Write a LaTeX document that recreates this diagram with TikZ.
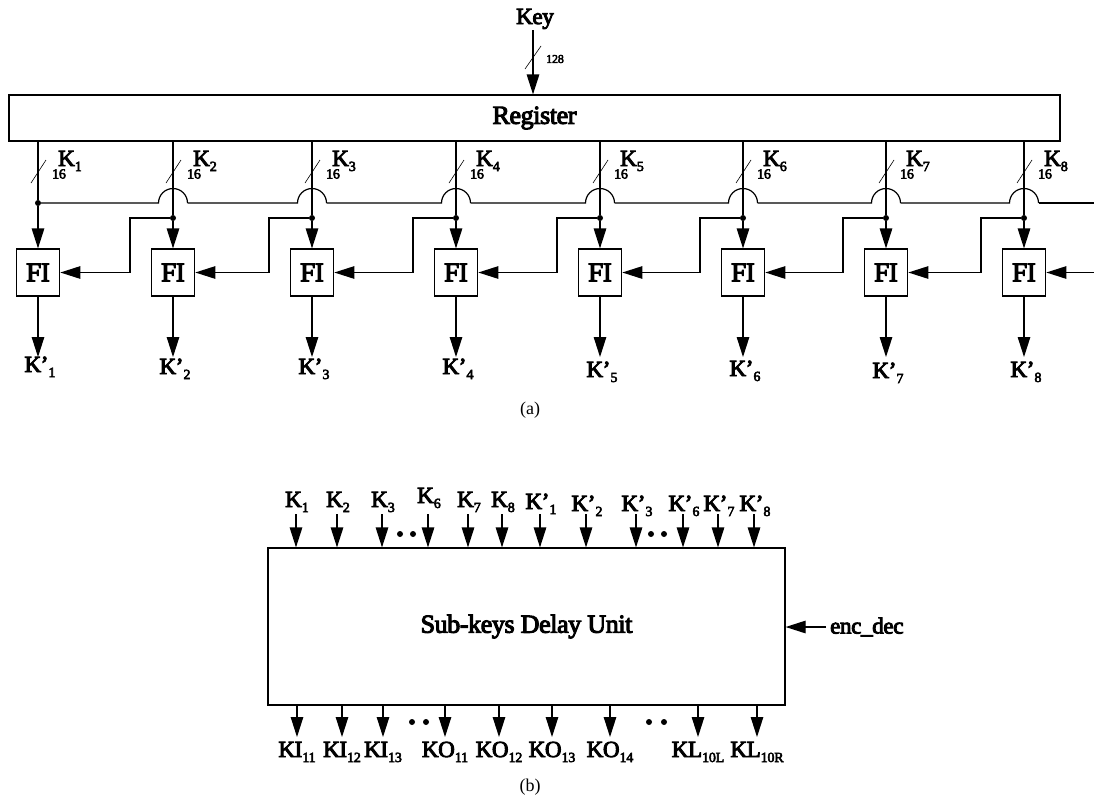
\documentclass[tikz,border=0pt]{standalone}
\usepackage{fontspec}
\setmainfont[FakeBold=4,LetterSpace=-1.5]{Liberation Serif}
\newfontfamily\plainfont{Liberation Serif}
\usetikzlibrary{arrows.meta}
\newcommand{\lab}[2]{#1\raisebox{-5pt}{\fontsize{14}{14}\selectfont #2}}
\tikzset{
    sig/.style={draw,line width=1.2pt,-{Triangle[length=20pt,width=12.5pt]}},
    wire/.style={draw,line width=1.2pt},
    slash/.style={draw,line width=0.6pt},
    block/.style={draw,line width=1.2pt,inner sep=0pt,fill=white},
    fibox/.style={block,minimum width=43.5pt,minimum height=47pt,font=\fontsize{27}{27}\selectfont},
    lbl/.style={inner sep=0pt,font=\fontsize{23}{23}\selectfont},
    bits/.style={inner sep=0pt,font=\fontsize{14}{14}\selectfont},
    subcap/.style={inner sep=0pt,font=\plainfont\fontsize{18}{18}\selectfont},
    dot/.style={circle,fill=black,inner sep=0pt,minimum size=6pt},
    bump/.style={start angle=180,end angle=360,radius=14.5}
}
\begin{document}
\begin{tikzpicture}[x=1pt,y=-1pt]
    \useasboundingbox(0,0)rectangle(1094,801);
    % part a
    \node[lbl,anchor=base](key)at(535,24){Key};
    \node[block,minimum width=1051pt,minimum height=46pt,font=\fontsize{26}{26}\selectfont](reg)at(534.5,118){\raisebox{-2pt}{Register}};
    \coordinate(keyin)at(533,30);
    \draw[sig](keyin)--(keyin|-reg.north);
    \draw[slash](525,69)--(541,46);
    \node[bits,anchor=west,font=\fontsize{12}{12}\selectfont](w0)at(546,59){128};
    \foreach \i/\x/\yo in {1/38/372,2/173/374,3/312/374,4/456/374,5/600/377,6/743/376,7/886/378,8/1024/377}{
        \node[fibox](fi\i)at(\x,272.5){FI};
        \node[lbl,anchor=base](kout\i)at(\x+2,\yo){\lab{K'}{\i}};
        \coordinate(out\i)at(\x,357);
        \draw[sig](fi\i.south)--(out\i);
        \draw[slash](\x-7,183)--(\x+8,160);
        \node[bits](w\i)at(\x+21,174){16};
        \node[lbl,anchor=base west](k\i)at(\x+20,166){\lab{K}{\i}};
    }
    % first line stops at the dot, the others carry on down
    \node[dot](d1)at(38,203){};
    \draw[wire](reg.south-|fi1)--(d1);
    \draw[sig](d1)--(fi1.north);
    \foreach \i/\j/\x in {2/1/173,3/2/312,4/3/456,5/4/600,6/5/743,7/6/886,8/7/1024}{
        \node[dot](d\i)at(\x,218){};
        \draw[wire](reg.south-|fi\i)--(d\i);
        \draw[sig](d\i)--(fi\i.north);
        \coordinate(hop\i)at(\x-14.5,203);
        \draw[sig](d\i)-|(\x-43,272.5)--(fi\j.east);
    }
    \draw[wire](d1)--(hop2)arc[bump];
    \draw[wire](187.5,203)--(hop3)arc[bump];
    \draw[wire](326.5,203)--(hop4)arc[bump];
    \draw[wire](470.5,203)--(hop5)arc[bump];
    \draw[wire](614.5,203)--(hop6)arc[bump];
    \draw[wire](757.5,203)--(hop7)arc[bump];
    \draw[wire](900.5,203)--(hop8)arc[bump];
    \draw[wire](1038.5,203)--(1094,203);
    \coordinate(edge)at(1094,272.5);
    \draw[sig](edge)--(fi8.east);
    \node[subcap](capa)at(530,410){(a)};
    % part b
    \node[block,minimum width=517pt,minimum height=157pt,font=\fontsize{26}{26}\selectfont](unit)at(526.5,626.5){\raisebox{-3pt}{Sub-keys Delay Unit}};
    \foreach \n/\x/\t/\yo in {a/296/\lab{K}{1}/507,b/337/\lab{K}{2}/507,c/382/\lab{K}{3}/507,d/428/\lab{K}{6}/503,e/468/\lab{K}{7}/507,f/502/\lab{K}{8}/507,g/540/\lab{K'}{1}/509,h/586/\lab{K'}{2}/511,i/636/\lab{K'}{3}/511,j/683/\lab{K'}{6}/511,k/718/\lab{K'}{7}/511,l/754/\lab{K'}{8}/511}{
        \node[lbl,anchor=base](in\n)at(\x+1,\yo){\t};
        \coordinate(top\n)at(\x,514);
        \draw[sig](top\n)--(top\n|-unit.north);
    }
    \foreach \n/\x/\t in {a/297/\lab{KI}{11},b/342/\lab{KI}{12},c/383/\lab{KI}{13},d/445/\lab{KO}{11},e/499/\lab{KO}{12},f/552/\lab{KO}{13},g/610/\lab{KO}{14},h/698/\lab{KL}{10L},i/757/\lab{KL}{10R}}{
        \coordinate(bot\n)at(\x,737);
        \draw[sig](bot\n|-unit.south)--(bot\n);
        \node[lbl,anchor=base](out\n)at(\x,757){\t};
    }
    \node[dot](ga)at(400,534){};
    \node[dot](gb)at(413,534){};
    \node[dot](gc)at(651,534){};
    \node[dot](gd)at(664,534){};
    \node[dot](ge)at(412,722){};
    \node[dot](gf)at(426,722){};
    \node[dot](gg)at(649,722){};
    \node[dot](gh)at(664,722){};
    \node[lbl,anchor=west](enc)at(830,627){enc\_dec};
    \coordinate(encin)at(826,627);
    \draw[sig](encin)--(unit.east|-encin);
    \node[subcap](capb)at(530,787){(b)};
\end{tikzpicture}
\end{document}
